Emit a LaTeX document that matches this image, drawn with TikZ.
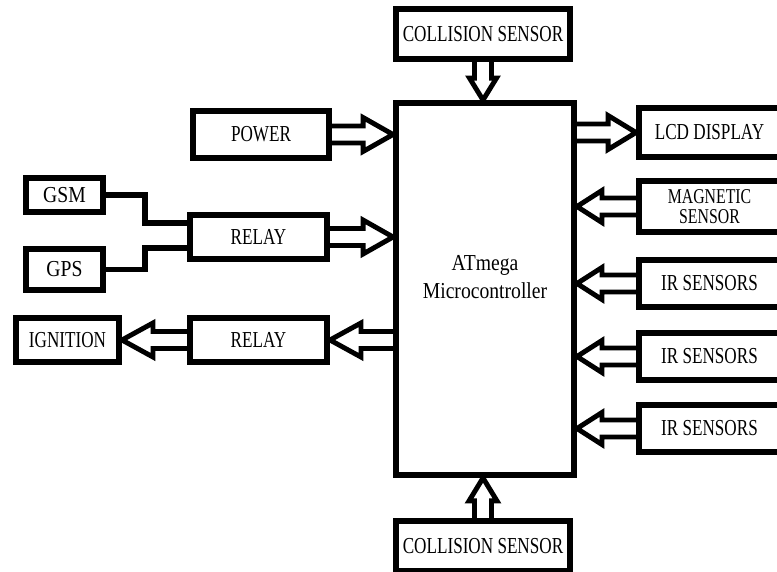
\documentclass[tikz,border=0pt]{standalone}
\usepackage{fontspec}
\setmainfont{Liberation Serif}
\newfontfamily\condfont[FakeStretch=0.75]{Liberation Serif}
\newfontfamily\mcufont[FakeStretch=0.86]{Liberation Serif}
\usetikzlibrary{calc, positioning}

\tikzset{
  blk/.style={draw, line width=3.4pt, inner sep=0pt, font=\condfont\fontsize{13}{15}\selectfont},
  smallblk/.style={blk, font=\mcufont\fontsize{13}{14}\selectfont},
  sidebox/.style={blk, minimum width=2.82cm},
  fat/.style={draw, line width=2.8pt, line join=miter},
  wire/.style={draw, line width=3pt, line join=miter}
}

% hollow block arrow: #1 from, #2 to, #3 head length, #4 head half width
\newcommand{\fatarrow}[4]{%
  \draw[fat] ($(#1)!0.17cm!90:(#2)$) -- ($(#2)!#3!(#1)!0.17cm!90:(#2)$)
    -- ($(#2)!#3!(#1)!#4!90:(#2)$) -- (#2)
    -- ($(#2)!#3!(#1)!#4!-90:(#2)$) -- ($(#2)!#3!(#1)!0.17cm!-90:(#2)$)
    -- ($(#1)!0.17cm!-90:(#2)$);}

\begin{document}
\begin{tikzpicture}[x=0.02cm, y=-0.02cm]
  \useasboundingbox (0,0) rectangle (777,571);
  \clip (0,0) rectangle (777,571);

  % Microcontroller
  \node[blk, minimum width=3.56cm, minimum height=7.44cm,
        label={[font=\mcufont\fontsize{13}{16}\selectfont, align=center, yshift=7pt]center:ATmega\\Microcontroller}]
        (mcu) at (485,289) {};

  % Collision sensors
  \node[blk, minimum width=3.48cm, minimum height=1.0cm] (ctop) at (483,34) {COLLISION SENSOR};
  \node[blk, minimum width=3.48cm, minimum height=1.0cm] (cbot) at (483,546) {COLLISION SENSOR};

  % Left side
  \node[blk, minimum width=2.72cm, minimum height=0.94cm] (pow) at (261,134.5) {POWER};
  \node[blk, minimum width=2.74cm, minimum height=0.88cm] (rly1) at (258.5,237) {RELAY};
  \node[smallblk, minimum width=1.54cm, minimum height=0.68cm] (gsm) at (64.5,195) {GSM};
  \node[smallblk, minimum width=1.54cm, minimum height=0.82cm] (gps) at (64.5,269.5) {GPS};
  \node[blk, minimum width=2.06cm, minimum height=0.88cm] (ign) at (67.5,340) {IGNITION};
  \node[blk, minimum width=2.74cm, minimum height=0.88cm] (rly2) at (258.5,340) {RELAY};

  % Right side
  \node[sidebox, minimum height=0.98cm] (lcd) at (709.5,132.5) {LCD DISPLAY};
  \node[sidebox, minimum height=1.02cm, align=center, font=\condfont\fontsize{12}{11}\selectfont] (mag) at (709.5,206.5) {MAGNETIC\\SENSOR};
  \node[sidebox, minimum height=0.94cm] (ir1) at (709.5,283.5) {IR SENSORS};
  \node[sidebox, minimum height=0.94cm] (ir2) at (709.5,356.5) {IR SENSORS};
  \node[sidebox, minimum height=0.94cm] (ir3) at (709.5,428.5) {IR SENSORS};

  % GSM / GPS into relay
  \draw[wire] (gsm.east) -- ++(39,0) |- ($(rly1.west)+(0,-14)$);
  \draw[wire] (gps.east) -- ++(39,0) |- ($(rly1.west)+(0,11)$);

  % Arrows
  \fatarrow{ctop.south}{mcu.north -| ctop.south}{0.44cm}{0.27cm}
  \fatarrow{cbot.north}{mcu.south -| cbot.north}{0.46cm}{0.28cm}
  \fatarrow{pow.east}{mcu.west |- pow.east}{0.6cm}{0.34cm}
  \fatarrow{rly1.east}{mcu.west |- rly1.east}{0.6cm}{0.34cm}
  \fatarrow{mcu.west |- rly2.east}{rly2.east}{0.62cm}{0.34cm}
  \fatarrow{rly2.west}{ign.east}{0.62cm}{0.34cm}
  \fatarrow{mcu.east |- lcd.west}{lcd.west}{0.56cm}{0.34cm}
  \fatarrow{mag.west}{mcu.east |- mag.west}{0.5cm}{0.32cm}
  \fatarrow{ir1.west}{mcu.east |- ir1.west}{0.5cm}{0.32cm}
  \fatarrow{ir2.west}{mcu.east |- ir2.west}{0.5cm}{0.32cm}
  \fatarrow{ir3.west}{mcu.east |- ir3.west}{0.5cm}{0.32cm}
\end{tikzpicture}
\end{document}
